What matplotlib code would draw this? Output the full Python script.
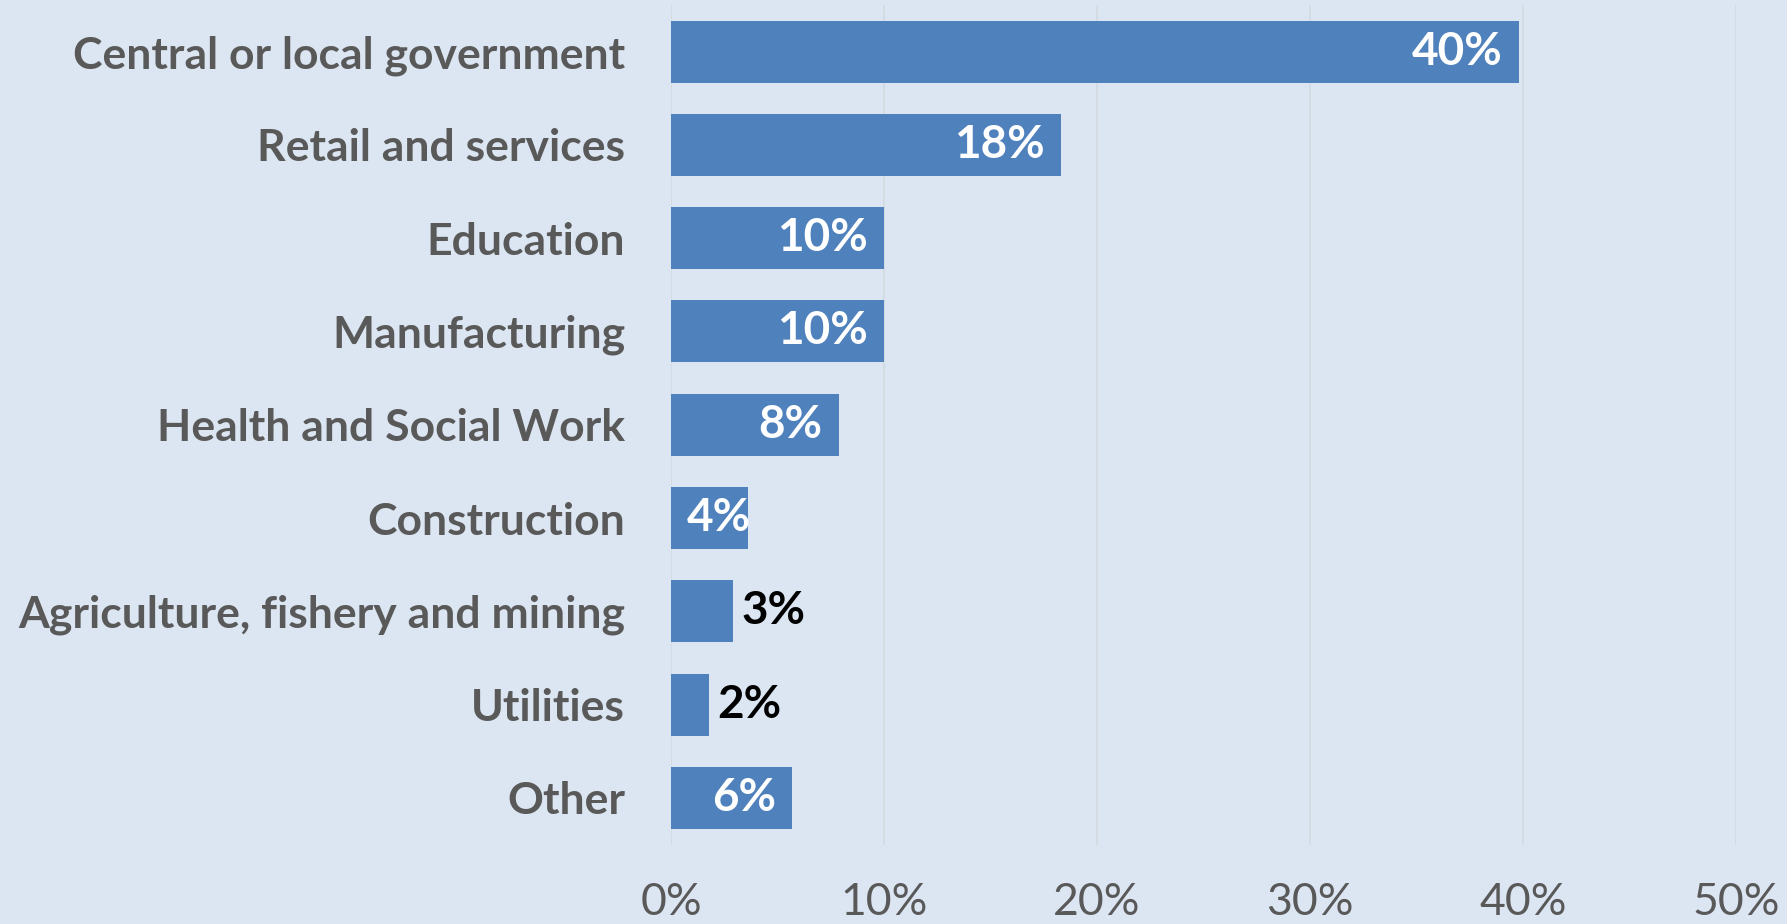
import matplotlib.pyplot as plt
from matplotlib.ticker import PercentFormatter

# Share of respondents by sector
sectors = ['Central or local government', 'Retail and services', 'Education',
           'Manufacturing', 'Health and Social Work', 'Construction',
           'Agriculture, fishery and mining', 'Utilities', 'Other']
shares = [0.398, 0.183, 0.100, 0.100, 0.079, 0.036, 0.029, 0.018, 0.057]
label_colors = ['white', 'white', 'white', 'white', 'white', 'white',
                'black', 'black', 'white']

bg = '#DCE6F2'
bar_color = '#4F81BD'
text_gray = '#595959'

plt.rcParams['font.family'] = ['Lato', 'DejaVu Sans']

fig = plt.figure(figsize=(17.87, 9.24), dpi=100, facecolor=bg)
ax = fig.add_axes([0.3755, 0.0859, 0.596, 0.9088], facecolor=bg)

ypos = list(range(len(sectors)))
bars = ax.barh(ypos, shares, height=0.665, color=bar_color, zorder=2)

ax.set_xlim(0, 0.5)
ax.set_ylim(len(sectors) - 0.5, -0.5)
ax.set_xticks([0, 0.1, 0.2, 0.3, 0.4, 0.5])
ax.xaxis.set_major_formatter(PercentFormatter(1.0, decimals=0))
ax.set_yticks(ypos)
ax.set_yticklabels(sectors, fontweight='bold')

ax.tick_params(axis='x', length=0, pad=27, labelsize=32, labelcolor=text_gray)
ax.tick_params(axis='y', length=0, pad=33, labelsize=32, labelcolor=text_gray)
ax.grid(axis='x', color='#D4D9DF', linewidth=1.2, zorder=0)
for s in ax.spines.values():
    s.set_visible(False)

fig.canvas.draw()
renderer = fig.canvas.get_renderer()
px_per_unit = ax.transData.transform((1, 0))[0] - ax.transData.transform((0, 0))[0]

for rect, val, col in zip(bars, shares, label_colors):
    y = rect.get_y() + rect.get_height() / 2
    txt = f'{val:.0%}'
    if col == 'black':
        ax.annotate(txt, (val, y), xytext=(6, 0), textcoords='offset points',
                    ha='left', va='center', color=col, fontsize=33,
                    fontweight='bold', zorder=3)
    else:
        t = ax.annotate(txt, (val, y), xytext=(-12, 0), textcoords='offset points',
                        ha='right', va='center', color=col, fontsize=33,
                        fontweight='bold', zorder=3)
        w = t.get_window_extent(renderer).width
        if w + 30 > val * px_per_unit:
            # too narrow for the label: start it just inside the bar
            t.remove()
            ax.annotate(txt, (0, y), xytext=(11, 0), textcoords='offset points',
                        ha='left', va='center', color=col, fontsize=33,
                        fontweight='bold', zorder=3)

fig.savefig('out.png', dpi=100, facecolor=bg)
